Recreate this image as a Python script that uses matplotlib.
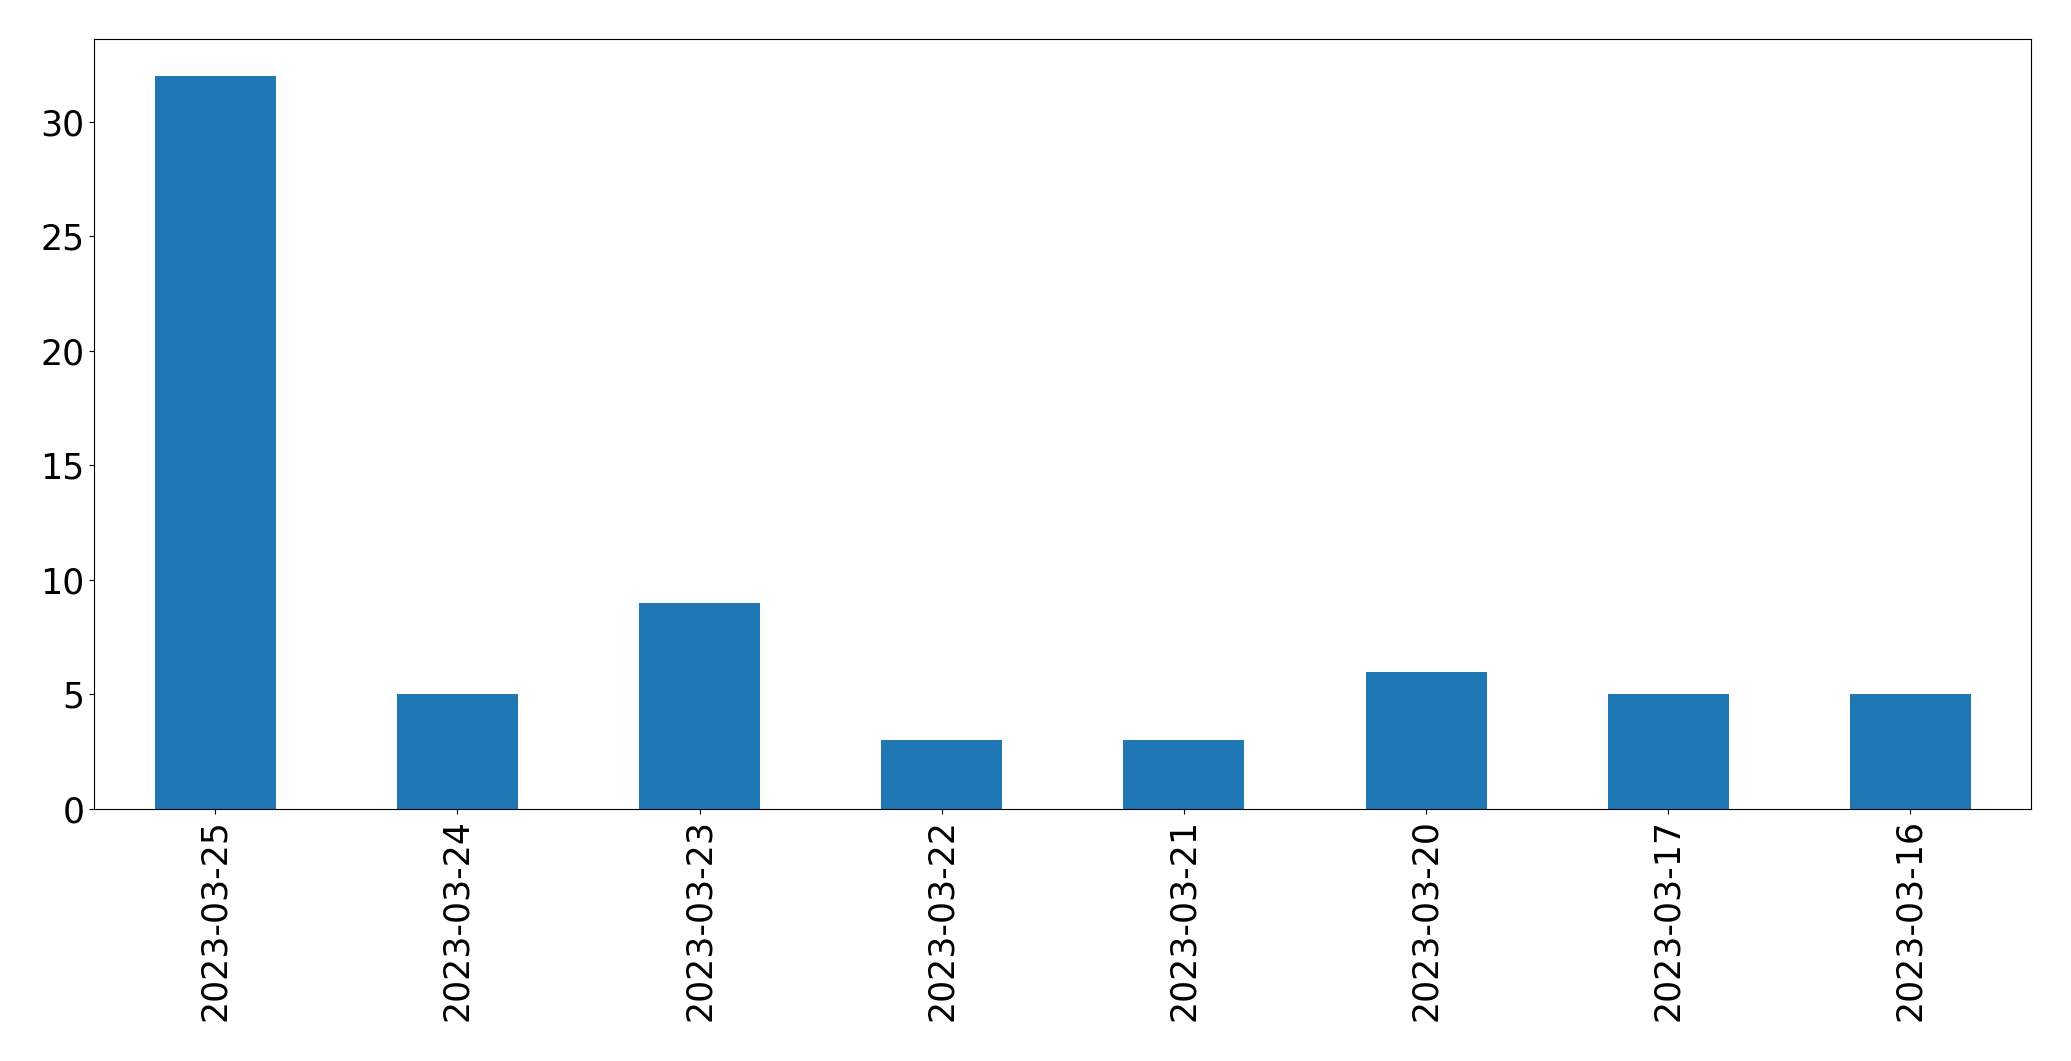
import matplotlib
matplotlib.use("Agg")
import matplotlib.pyplot as plt
import numpy as np

# daily counts, newest first
dates = ["2023-03-25", "2023-03-24", "2023-03-23", "2023-03-22",
         "2023-03-21", "2023-03-20", "2023-03-17", "2023-03-16"]
counts = [32, 5, 9, 3, 3, 6, 5, 5]

fig = plt.figure(figsize=(20.71, 10.61), dpi=100)
ax = fig.add_axes([0.0455, 0.2375, 0.9354, 0.7255])

x = np.arange(len(dates))
ax.bar(x, counts, width=0.5, color="#1f77b4")
ax.set_xlim(-0.5, len(dates) - 0.5)
ax.set_ylim(0, max(counts) * 1.05)
ax.set_xticks(x)
ax.set_xticklabels(dates, rotation=90)
ax.tick_params(labelsize=25)

fig.savefig("out.png", dpi=100)
